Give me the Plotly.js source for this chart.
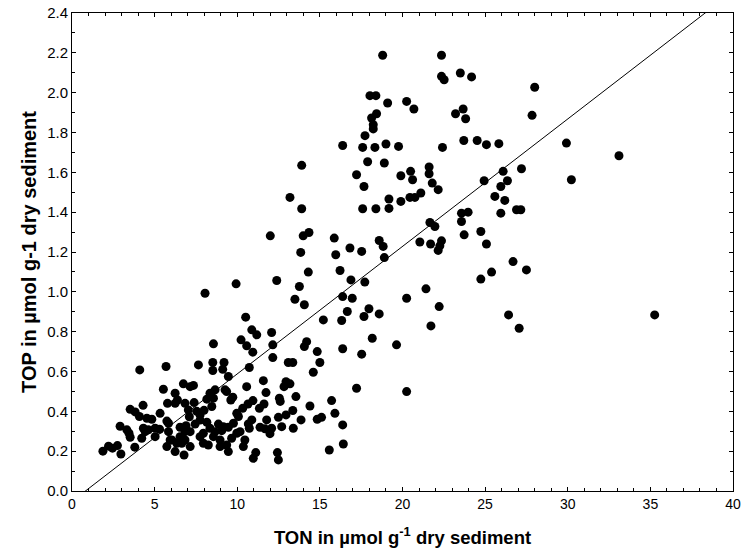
<!DOCTYPE html>
<html>
<head>
<meta charset="utf-8">
<script src="https://cdn.plot.ly/plotly-3.0.1.min.js"></script>
<style>html,body{margin:0;padding:0;background:#fff;}#chart{width:741px;height:558px;}</style>
</head>
<body>
<div id="chart"></div>
<script>
// TON (x, µmol g-1 dry sediment) and TOP (y, µmol g-1 dry sediment)
const tonValues = [
1.87,2.21,2.45,2.75,2.96,2.91,3.32,3.45,3.52,3.52,3.82,3.80,4.08,4.10,4.30,4.22,4.43,4.32,4.53,4.62,
4.83,5.03,5.03,5.33,5.30,5.53,5.69,5.78,5.74,5.84,5.94,5.74,5.84,6.04,6.24,6.24,6.38,6.24,6.34,6.54,
6.54,6.64,6.74,6.78,6.84,6.90,6.84,6.84,7.04,7.10,7.15,7.15,7.15,7.39,7.45,7.55,7.35,7.65,7.75,7.75,
7.75,7.95,7.99,7.95,8.05,8.16,8.16,8.25,8.35,8.35,8.46,
8.52,8.52,8.56,8.66,8.56,8.56,8.66,8.86,8.96,8.96,9.06,9.12,9.20,9.26,9.16,9.36,9.36,9.46,9.46,9.46,
9.61,9.66,9.77,9.73,9.93,9.97,9.97,10.07,10.17,
10.23,10.33,10.46,10.37,10.51,10.57,10.57,10.65,10.73,10.67,10.73,10.88,10.88,10.94,10.95,10.97,11.12,11.18,11.34,11.38,
11.58,11.62,11.68,11.74,11.78,11.98,12.00,12.08,12.08,12.15,12.15,12.39,12.43,12.49,12.49,12.55,12.60,12.69,12.83,12.95,
12.95,13.09,13.19,13.19,13.36,13.36,13.39,13.49,13.55,13.76,13.84,13.86,13.90,13.90,13.99,14.06,14.06,14.20,14.30,14.34,
14.40,14.60,14.84,14.84,15.00,15.10,15.21,15.57,15.71,15.87,15.91,15.96,16.38,16.42,
16.22,16.32,16.38,16.38,16.38,16.66,16.82,16.88,16.96,17.22,17.22,17.53,17.53,17.59,17.59,17.67,17.67,17.72,17.73,17.89,
17.97,18.03,18.13,18.17,18.23,18.23,18.33,18.39,18.39,18.43,18.59,18.59,18.80,18.83,18.90,18.90,19.00,19.10,19.18,19.18,
19.64,19.76,19.90,19.90,20.25,20.25,20.25,20.45,20.49,20.61,20.69,20.75,21.05,21.11,21.42,21.61,21.61,21.66,21.70,21.72,
21.80,21.96,22.16,22.16,22.22,22.26,22.36,22.36,22.36,22.42,22.52,23.21,23.50,23.57,23.57,23.67,23.71,23.73,23.82,23.97,
24.18,24.52,24.74,24.74,24.94,25.08,25.08,25.39,25.59,25.83,25.95,25.95,26.09,26.19,26.35,26.42,26.69,26.90,27.06,27.16,
27.20,27.50,27.84,28.00,29.92,30.22,33.10,35.26
];
const topValues = [
0.200,0.225,0.215,0.228,0.186,0.325,0.307,0.290,0.270,0.410,0.397,0.220,0.374,0.608,0.430,0.265,0.298,0.315,0.365,0.307,
0.360,0.315,0.273,0.390,0.310,0.511,0.625,0.440,0.351,0.298,0.256,0.223,0.340,0.256,0.198,0.491,0.457,0.440,0.240,0.320,
0.273,0.240,0.538,0.181,0.440,0.328,0.256,0.298,0.407,0.373,0.524,0.298,0.223,0.444,0.336,0.400,0.530,0.633,0.356,0.273,
0.382,0.290,0.405,0.240,0.993,0.461,0.345,0.231,0.491,0.315,0.424,
0.645,0.605,0.739,0.508,0.466,0.273,0.298,0.336,0.223,0.256,0.303,0.611,0.645,0.508,0.323,0.499,0.231,0.575,0.320,0.198,
0.457,0.265,0.340,0.471,1.040,0.290,0.390,0.374,0.298,
0.759,0.415,0.256,0.223,0.873,0.729,0.524,0.437,0.620,0.337,0.315,0.809,0.357,0.697,0.454,0.164,0.193,0.784,0.415,0.320,
0.554,0.437,0.312,0.494,0.357,0.288,1.281,0.796,0.315,0.734,0.670,1.057,0.193,0.156,0.370,0.466,0.450,0.323,0.524,0.549,
0.382,0.645,0.538,1.474,0.645,0.404,0.315,0.963,0.474,1.027,1.198,0.357,1.635,1.417,1.281,0.935,0.725,0.750,1.099,1.298,
0.427,0.596,0.700,0.360,0.645,0.370,0.859,0.206,0.454,1.270,0.390,1.186,0.332,0.236,
1.107,0.856,0.976,0.714,1.735,0.901,1.220,1.060,0.968,1.588,0.516,1.203,0.687,1.725,1.417,1.529,0.876,1.049,1.784,1.653,
0.915,1.985,1.873,0.767,1.839,1.818,1.725,1.985,1.417,1.894,1.258,0.889,2.188,1.228,1.647,1.172,1.742,1.948,1.466,1.419,
0.734,1.730,1.583,1.454,1.956,0.968,0.499,1.474,1.605,1.563,1.918,1.474,1.250,1.496,1.015,1.627,1.593,1.348,1.240,0.829,
1.546,1.328,1.513,1.208,0.926,1.231,2.188,2.082,1.256,1.725,2.065,1.894,2.099,1.395,1.353,1.918,1.760,1.286,1.869,1.400,
2.079,1.760,1.303,1.064,1.558,1.739,1.240,1.099,1.479,1.744,1.529,1.395,1.605,1.459,1.558,0.884,1.152,1.412,0.817,1.412,
1.618,1.110,1.886,2.027,1.747,1.563,1.683,0.884
];
// linear fit shown in the reference
const fitSlope = 0.0640;
const fitIntercept = -0.0520;
const xRange = [0, 40];
const yRange = [0, 2.4];

const fitX = xRange.slice();
const fitY = fitX.map(v => fitIntercept + fitSlope * v);

const font = 'Liberation Sans, Arial, sans-serif';
const data = [
  {x: tonValues, y: topValues, type: 'scatter', mode: 'markers',
   marker: {color: '#000', size: 9, line: {width: 0}}, cliponaxis: true, hoverinfo: 'skip'},
  {x: fitX, y: fitY, type: 'scatter', mode: 'lines',
   line: {color: '#000', width: 1}, hoverinfo: 'skip'}
];
const axisCommon = {
  showgrid: false, zeroline: false, showline: true, linecolor: '#000', linewidth: 1,
  mirror: 'ticks', ticks: 'inside', ticklen: 4, tickwidth: 1, tickcolor: '#000'
};
const layout = {
  width: 741, height: 558,
  margin: {l: 72, r: 8, t: 13, b: 67},
  paper_bgcolor: '#fff', plot_bgcolor: '#fff',
  showlegend: false,
  xaxis: Object.assign({}, axisCommon, {
    range: xRange, dtick: 5, tick0: 0,
    tickfont: {family: font, size: 14, color: '#000'},
    minor: {dtick: 1, ticks: 'inside', ticklen: 3, tickcolor: '#000'},
    title: {text: 'TON in µmol g<sup>-1</sup> dry sediment', font: {family: font, size: 18.5, color: '#000', weight: 'bold'}, standoff: 20}
  }),
  yaxis: Object.assign({}, axisCommon, {
    range: yRange, dtick: 0.2, tick0: 0, tickformat: '.1f',
    tickfont: {family: font, size: 15, color: '#000'},
    minor: {dtick: 0.1, ticks: 'inside', ticklen: 3, tickcolor: '#000'},
    title: {text: 'TOP in µmol g-1 dry sediment', font: {family: font, size: 20, color: '#000', weight: 'bold'}, standoff: 5}
  })
};
Plotly.newPlot('chart', data, layout, {staticPlot: true, displayModeBar: false});
</script>
</body>
</html>
